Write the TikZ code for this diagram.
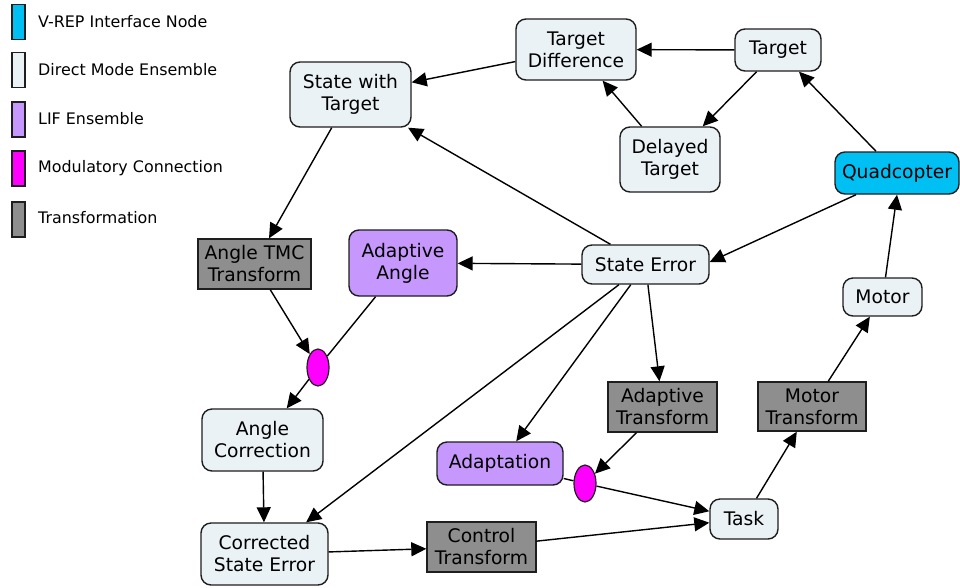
\documentclass[tikz,border=0pt]{standalone}
\usepackage{fontspec}
\setmainfont{DejaVu Sans}
\usetikzlibrary{arrows.meta,shapes.geometric}
\definecolor{edgecol}{HTML}{1E1E1E}
\definecolor{directcol}{HTML}{EBF2F5}
\definecolor{vrepcol}{HTML}{00BFF3}
\definecolor{lifcol}{HTML}{C697FC}
\definecolor{modcol}{HTML}{FF00FF}
\definecolor{xformcol}{HTML}{8E8E8E}
\begin{document}
\begin{tikzpicture}[x=1pt,y=-1pt,
  box/.style={draw=edgecol, line width=1.4pt, align=center, inner sep=0pt,
              font=\fontsize{18.7}{22}\selectfont},
  ens/.style={box, rounded corners=10pt, fill=directcol},
  lif/.style={box, rounded corners=10pt, fill=lifcol},
  vrep/.style={box, rounded corners=10pt, fill=vrepcol},
  xform/.style={box, fill=xformcol},
  modc/.style={ellipse, draw=edgecol, line width=1.2pt, fill=modcol,
               minimum width=22pt, minimum height=37pt, inner sep=0pt},
  sz/.style 2 args={minimum width=#1pt, minimum height=#2pt},
  swatch/.style={draw=edgecol, line width=1.4pt, minimum width=13pt, minimum height=35pt, inner sep=0pt},
  legtext/.style={anchor=west, inner sep=0pt, font=\fontsize{15.9}{19}\selectfont},
  conn/.style={draw=black, line width=1.4pt, -{Triangle[length=15pt,width=14pt]}},
  link/.style={draw=black, line width=1.4pt}]
\useasboundingbox[fill=white] (0,0) rectangle (960,587);

% legend
\node[swatch, fill=vrepcol]   (k1) at (18.5,22) {};
\node[swatch, fill=directcol] (k2) at (18.5,70) {};
\node[swatch, fill=lifcol]    (k3) at (18.5,119.5) {};
\node[swatch, fill=modcol]    (k4) at (18.5,168.5) {};
\node[swatch, fill=xformcol]  (k5) at (18.5,219.5) {};
\node[legtext] (t1) at (38,22)  {V-REP Interface Node};
\node[legtext] (t2) at (38,70)  {Direct Mode Ensemble};
\node[legtext] (t3) at (38,119) {LIF Ensemble};
\node[legtext] (t4) at (38,168) {Modulatory Connection};
\node[legtext] (t5) at (38,218) {Transformation};

% network nodes
\node[ens, sz={120}{61}]  (tdiff) at (576,49.5)   {Target\\Difference};
\node[ens, sz={86}{42}]   (targ)  at (778,50)     {Target};
\node[ens, sz={100}{65}]  (delay) at (670,159.5)  {Delayed\\Target};
\node[vrep, sz={124}{42}] (quad)  at (897,173)    {Quadcopter};
\node[ens, sz={121}{65}]  (swt)   at (350.5,94.5) {State with\\Target};
\node[xform, sz={113}{50}] (tmc)  at (254.5,264)  {Angle TMC\\Transform};
\node[lif, sz={108}{66}]  (aang)  at (403,263)    {Adaptive\\Angle};
\node[modc]               (m1)    at (318,367.5)  {};
\node[ens, sz={127}{39}]  (se)    at (645.5,264.5) {State Error};
\node[ens, sz={79}{38}]   (motor) at (882.5,297)  {Motor};
\node[xform, sz={109}{50}] (atr)  at (662.5,407)  {Adaptive\\Transform};
\node[xform, sz={108}{49}] (mtr)  at (812,406.5)  {Motor\\Transform};
\node[lif, sz={126}{43}]  (adapt) at (500,463.5)  {Adaptation};
\node[modc]               (m2)    at (585,483.5)  {};
\node[ens, sz={68}{40}]   (task)  at (744,519)    {Task};
\node[xform, sz={109}{50}] (ctr)  at (481.5,547)  {Control\\Transform};
\node[ens, sz={121}{62}]  (acor)  at (262.5,440)  {Angle\\Correction};
\node[ens, sz={127}{62}]  (cse)   at (264.5,554)  {Corrected\\State Error};

% connections
\draw[conn] (targ) -- (tdiff);
\draw[conn] (targ) -- (delay);
\draw[conn] (delay) -- (tdiff);
\draw[conn] (quad) -- (targ);
\draw[conn] (tdiff) -- (swt);
\draw[conn] (se) -- (swt);
\draw[conn] ([xshift=-41pt]quad.south) -- ([yshift=2.5pt]se.east);
\draw[conn] ([xshift=3pt]motor.north) -- (quad.south);
\draw[conn] (swt) -- (tmc);
\draw[conn] (se) -- (aang);
\draw[conn] (tmc) -- (m1);
\draw[link] (aang) -- (m1);
\draw[conn] (m1) -- (acor);
\draw[conn] (acor) -- (cse);
\draw[conn] (se) -- (cse);
\draw[conn] (se) -- (adapt);
\draw[conn] (se) -- (atr);
\draw[conn] (atr) -- (m2);
\draw[link] (adapt) -- (m2);
\draw[conn] (m2) -- (task);
\draw[conn] (cse) -- (ctr);
\draw[conn] (ctr) -- (task);
\draw[conn] (task) -- (mtr);
\draw[conn] (mtr) -- (motor);
\end{tikzpicture}
\end{document}
